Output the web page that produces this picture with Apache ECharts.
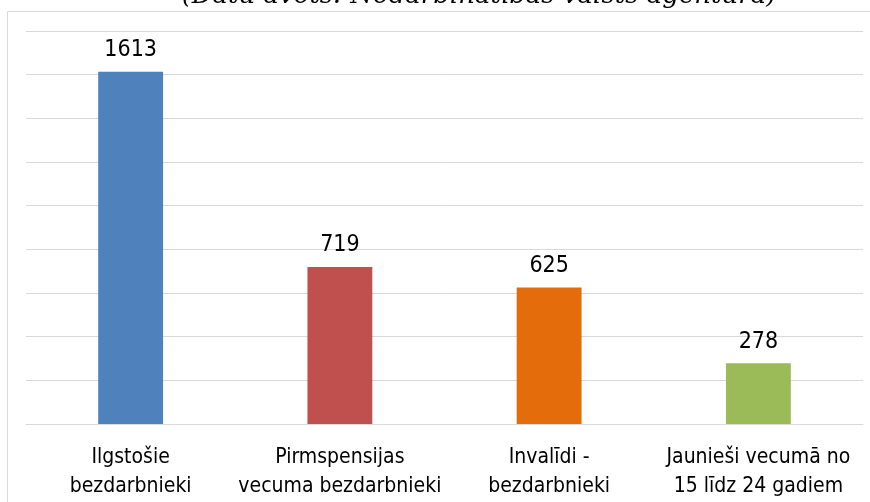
<!DOCTYPE html>
<html>
<head>
<meta charset="utf-8">
<script src="https://cdn.jsdelivr.net/npm/echarts@6/dist/echarts.min.js"></script>
<style>
html,body{margin:0;padding:0;background:#fff;}
#chart{width:870px;height:502px;}
</style>
</head>
<body>
<div id="chart"></div>
<script>
var categories = ["Ilgstošie\nbezdarbnieki", "Pirmspensijas\nvecuma bezdarbnieki", "Invalīdi -\nbezdarbnieki", "Jaunieši vecumā no\n15 līdz 24 gadiem"];
var values = [1613, 719, 625, 278];
var barColors = ["#4f81bd", "#c0504d", "#e46c0a", "#9bbb59"];
var titleText = "(Datu avots: Nodarbinātības valsts aģentūra)";

var labelFont = "'DejaVu Sans Condensed', Lato, sans-serif";

function init(){
    var chart = echarts.init(document.getElementById("chart"));
    var option = {
        animation: false,
        backgroundColor: "#fff",
        graphic: [
            {
                type: "rect",
                shape: {x: 7.5, y: 11.5, width: 900, height: 600},
                style: {fill: "none", stroke: "#d9d9d9", lineWidth: 1}
            },
            {
                type: "text",
                style: {
                    x: 479, y: 9,
                    text: titleText,
                    textAlign: "center",
                    textVerticalAlign: "bottom",
                    font: "italic 26px 'DejaVu Serif', serif",
                    fill: "#000"
                }
            }
        ],
        grid: {left: 26, right: 7, top: 31, bottom: 78},
        xAxis: {
            type: "category",
            data: categories,
            axisTick: {show: false},
            axisLine: {lineStyle: {color: "#d9d9d9"}},
            axisLabel: {
                color: "#000",
                fontFamily: labelFont,
                fontSize: 21,
                lineHeight: 29,
                margin: 19,
                interval: 0
            }
        },
        yAxis: {
            type: "value",
            min: 0,
            max: 1800,
            interval: 200,
            axisLabel: {show: false},
            axisLine: {show: false},
            axisTick: {show: false},
            splitLine: {lineStyle: {color: "#d9d9d9"}}
        },
        series: [
            {
                type: "bar",
                barWidth: "31%",
                data: values.map(function(v, i){
                    return {value: v, itemStyle: {color: barColors[i]}};
                }),
                label: {
                    show: true,
                    position: "top",
                    distance: 10,
                    color: "#000",
                    fontFamily: labelFont,
                    fontSize: 23
                }
            }
        ]
    };
    chart.setOption(option);
}
window.onload = function(){
    init();
};
</script>
</body>
</html>
